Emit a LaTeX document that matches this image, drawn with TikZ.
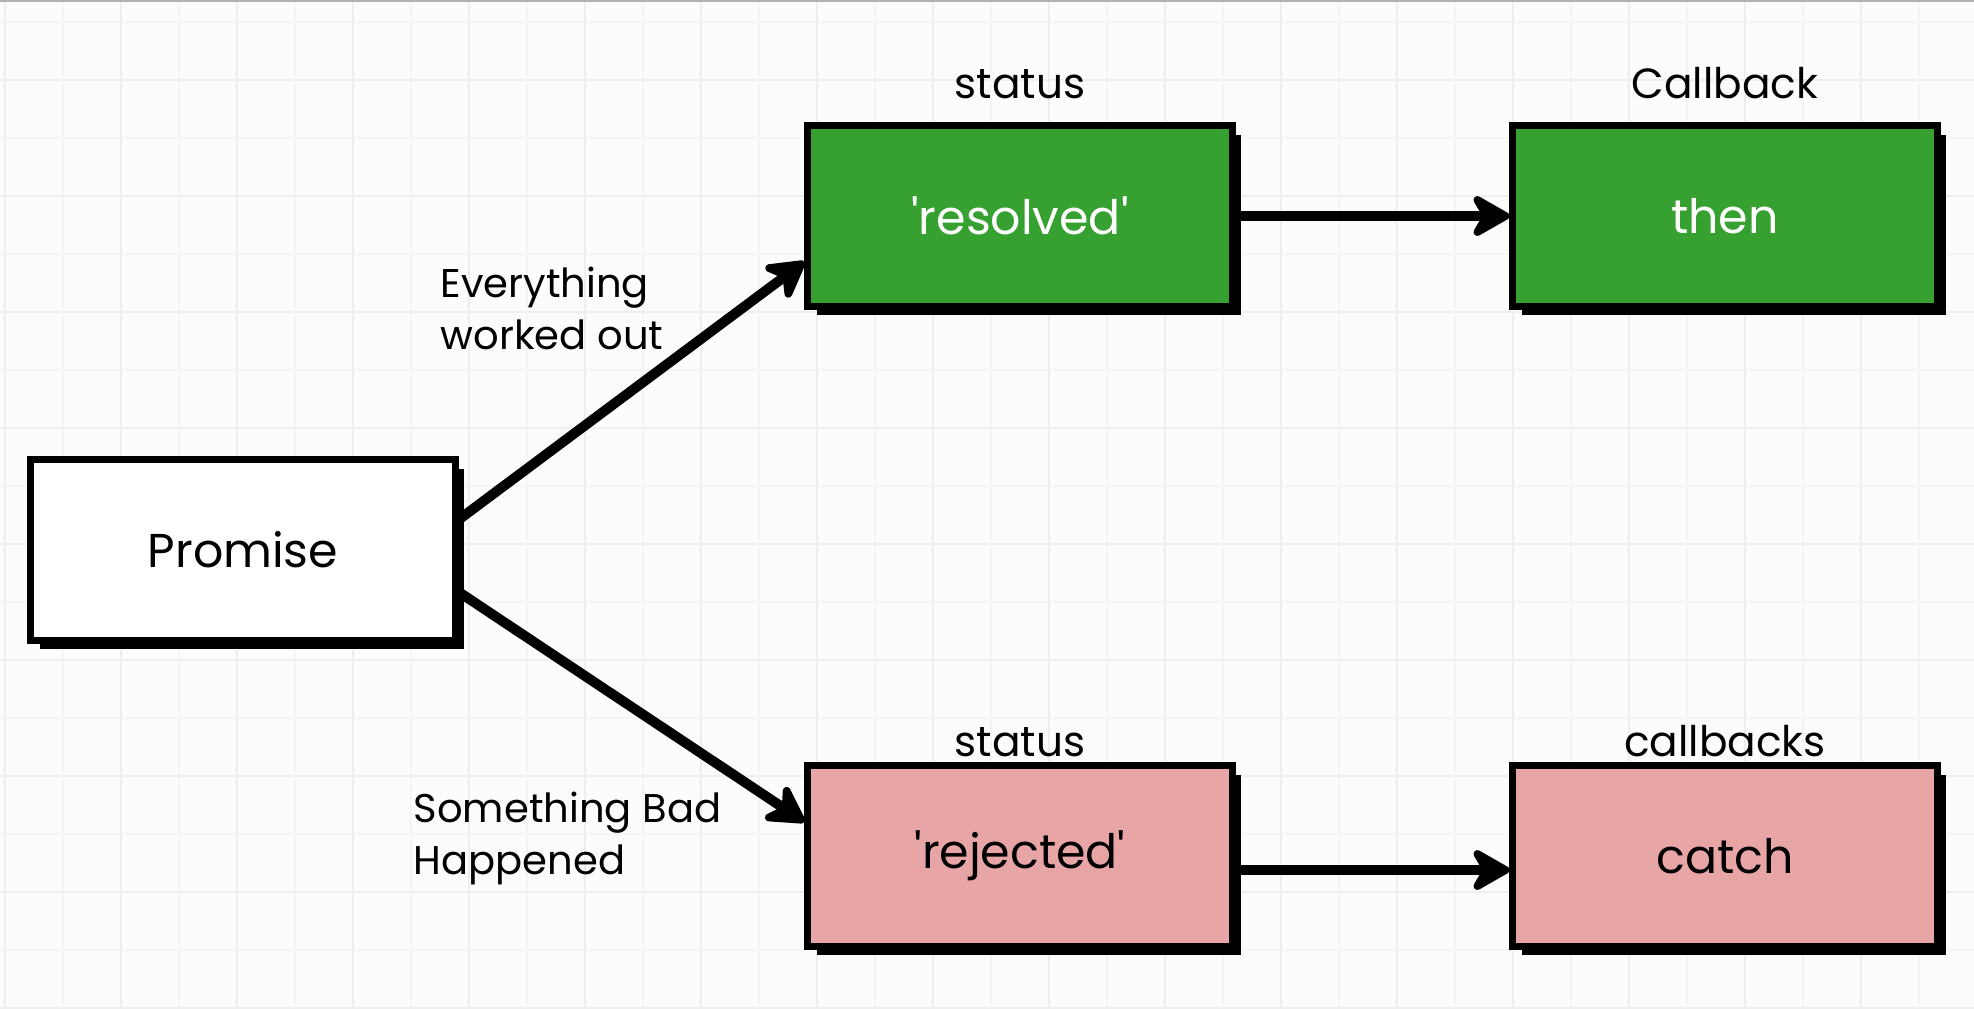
\documentclass[tikz,border=0pt]{standalone}
\usepackage{fontspec}
\setmainfont{Poppins}
\usetikzlibrary{arrows.meta,shadows}
\definecolor{okgreen}{HTML}{36A130}
\definecolor{badpink}{HTML}{E8A5A5}
\definecolor{gridminor}{HTML}{F5F5F5}
\definecolor{gridmajor}{HTML}{EEEEEE}
\newcommand{\quoted}[1]{\textquotesingle#1\textquotesingle}

\begin{document}
\begin{tikzpicture}[x=0.01cm,y=-0.01cm,
	box/.style={draw=black, line width=0.07cm, minimum width=4.24cm, minimum height=1.8cm, inner sep=0pt,
		font=\fontsize{13.5}{15}\selectfont,
		drop shadow={shadow xshift=0.09cm, shadow yshift=-0.09cm, fill=black, opacity=1}},
	lbl/.style={inner sep=0pt, outer sep=0pt, anchor=base, font=\fontsize{12}{14}\selectfont},
	note/.style={inner sep=0pt, align=left, font=\fontsize{11.4}{14.8}\selectfont},
	flow/.style={line width=0.1cm, -{Stealth[length=0.46cm,width=0.52cm,inset=0.15cm,round]}}]
	\useasboundingbox (0,0) rectangle (1974,1008);
	\fill[white!99!black] (0,0) rectangle (1974,1008);

	% grid paper
	\foreach \gx in {5,63,...,1974} \draw[gridminor, line width=0.02cm] (\gx,0) -- (\gx,1008);
	\foreach \gy in {22,80,...,1008} \draw[gridminor, line width=0.02cm] (0,\gy) -- (1974,\gy);
	\foreach \gx in {5,121,...,1974} \draw[gridmajor, line width=0.02cm] (\gx,0) -- (\gx,1008);
	\foreach \gy in {80,196,...,1008} \draw[gridmajor, line width=0.02cm] (0,\gy) -- (1974,\gy);
	\draw[gray!60, line width=0.02cm] (0,1) -- (1974,1);

	\node[box, fill=white] (prom) at (243,550) {Promise};
	\node[box, fill=okgreen, text=white] (res) at (1020,216) {\quoted{resolved}};
	\node[box, fill=okgreen, text=white] (then) at (1725,216) {then};
	\node[box, fill=badpink] (rej) at (1020,856) {\quoted{rejected}};
	\node[box, fill=badpink] (ctch) at (1725,856) {catch};

	% titles over the boxes
	\node[lbl] (resl) at ([yshift=0.235cm]res.north) {status};
	\node[lbl] (thenl) at ([yshift=0.235cm]then.north) {Callback};
	\node[lbl] (rejl) at ([yshift=0.055cm]rej.north) {status};
	\node[lbl] (ctchl) at ([yshift=0.055cm]ctch.north) {callbacks};

	\node[note, anchor=north west] (good) at (440,266) {Everything\\worked out};
	\node[note, anchor=north west] (bad) at (413,791) {Something Bad\\Happened};

	\draw[flow] (prom.8) -- (res.192);
	\draw[flow] (prom.-11) -- (rej.171);
	\draw[flow] (res.east) -- (then.west);
	\draw[flow] ([yshift=-0.14cm]rej.east) -- ([yshift=-0.14cm]ctch.west);

\end{tikzpicture}
\end{document}
